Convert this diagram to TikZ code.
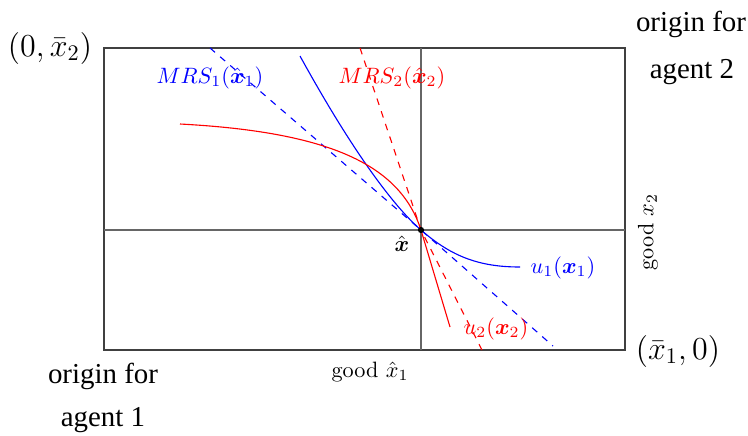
\documentclass[tikz,border=0pt]{standalone}
\usepackage{amsmath}
\usepackage{fontspec}
\newfontfamily\palfont{Liberation Serif}
\begin{document}
\begin{tikzpicture}[x=0.45pt,y=-0.45pt,
  frame/.style={black!75,line width=0.6pt},
  gridline/.style={black!60,line width=0.6pt},
  blu/.style={blue,line width=0.5pt},
  rd/.style={red,line width=0.5pt},
  lbl/.style={inner sep=0pt},
  bigtxt/.style={inner sep=0pt,font=\palfont\fontsize{13}{15}\selectfont}]
\useasboundingbox (0,0) rectangle (748,435);
\draw[frame] (104,48) rectangle (625,350);
\draw[gridline] (421,48) -- (421,350);
\draw[gridline] (104,230) -- (625,230);
\coordinate (xhat) at (421,230);
\draw[blu,dashed] (210,48) -- (xhat) -- (553,346);
\draw[rd,dashed] (360,48) -- (xhat) -- (482,350);
\draw[blu] (300,56) .. controls (360,165) and (400,212) .. (xhat) .. controls (452,257) and (480,267) .. (520,267);
\draw[rd] (180,124) .. controls (330,132) and (400,165) .. (xhat) -- (450,327);
\fill (xhat) circle[radius=1.4pt];
\node[lbl,text=blue] (mrs1) at (210,78) {$MRS_1(\hat{\boldsymbol{x}}_1)$};
\node[lbl,text=red] (mrs2) at (392,78) {$MRS_2(\hat{\boldsymbol{x}}_2)$};
\node[lbl,text=blue] (u1) at (563,268) {$u_1(\boldsymbol{x}_1)$};
\node[lbl,text=red] (u2) at (496,329) {$u_2(\boldsymbol{x}_2)$};
\node[lbl] (xh) at (402,244) {$\hat{\boldsymbol{x}}$};
\node[lbl] (g1) at (370,372) {good $\hat{x}_1$};
\node[lbl,rotate=90] (g2) at (648,232) {good $x_2$};
\node[lbl,font=\Large] (tl) at (50,48) {$(0,\bar{x}_2)$};
\node[lbl,font=\Large] (br) at (678,351) {$(\bar{x}_1,0)$};
\node[bigtxt] (o2a) at (691,24) {origin for};
\node[bigtxt] (o2b) at (692,72) {agent 2};
\node[bigtxt] (o1a) at (103,376) {origin for};
\node[bigtxt] (o1b) at (103,420) {agent 1};
\end{tikzpicture}
\end{document}
